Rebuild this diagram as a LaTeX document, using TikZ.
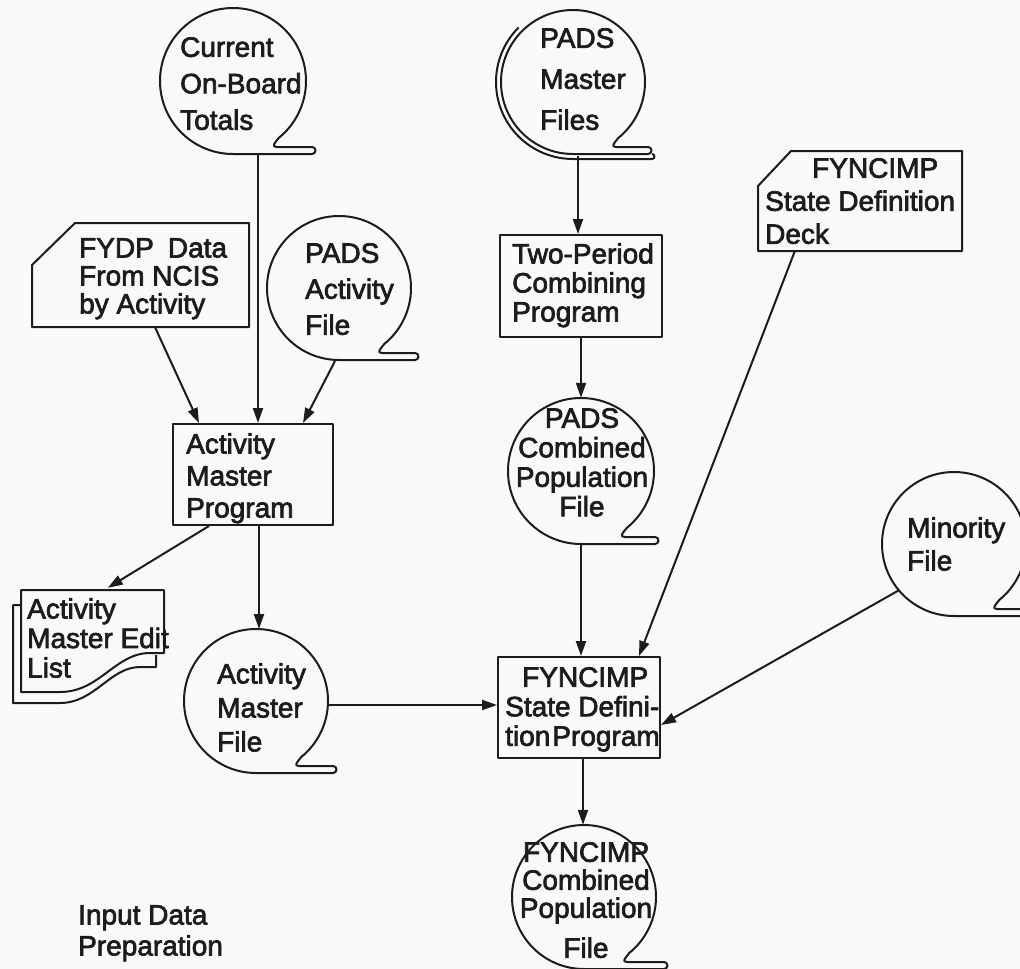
\documentclass[tikz,border=0pt]{standalone}
\usepackage{fontspec}
\setmainfont{Liberation Sans}[FakeBold=2.4]
\usetikzlibrary{calc,arrows.meta}
\definecolor{ink}{RGB}{28,28,28}
\definecolor{paper}{RGB}{249,249,247}

% font size 28pt with a chosen line spacing
\newcommand{\fsz}[1]{\fontsize{28}{#1}\selectfont}

% magnetic tape reel: circle with a short hooked tail at the bottom right
% #1 node name, #2 radius, #3 tail length measured from the centre
\newcommand{\tapeoutline}[3]{%
  \draw[outline] ($(#1.center)+(0,#2)$)
    arc[start angle=90, end angle=411, radius=#2]
    .. controls +(-4,5) and +(-6,0) .. ($(#1.center)+({0.6*#2},{#2-7})$)
    -- ($(#1.center)+(#3,{#2-7})$)
    arc[start angle=-90, end angle=90, radius=3.5]
    -- cycle;}

\begin{document}
\begin{tikzpicture}[x=1pt,y=-1pt,
  outline/.style={draw=ink, line width=2pt, line join=round},
  reel/.style={circle, minimum size=#1, inner sep=0pt, draw=none},
  procbox/.style={outline, rectangle, inner sep=0pt},
  hidden/.style={rectangle, inner sep=0pt, draw=none},
  txt/.style={inner sep=0pt, text=ink, align=left},
  ctxt/.style={inner sep=0pt, text=ink, align=center},
  arr/.style={draw=ink, line width=2pt, -{Triangle[length=15pt,width=10pt]}}]

\fill[paper] (0,0) rectangle (1020,969);
\useasboundingbox (0,0) rectangle (1020,969);

% ---------- input reels ----------
\node[reel=146pt] (cobt) at (233,81) {};
\tapeoutline{cobt}{73}{79}
\node[txt, font=\fsz{36.5}, anchor=north west] (cobt-t) at (180,37) {Current\\On-Board\\Totals};

\node[reel=144pt] (pmf) at (573,82) {};
\tapeoutline{pmf}{72}{75}
\draw[outline] ($(pmf.center)+(225:77)$) arc[start angle=225, end angle=90, radius=77]
  -- ($(pmf.center)+(79,77)$) arc[start angle=90, end angle=-90, radius=2.5];
\node[txt, font=\fsz{41}, anchor=north west] (pmf-t) at (540,28) {PADS\\Master\\Files};

\node[reel=144pt] (paf) at (339,288) {};
\tapeoutline{paf}{72}{76}
\node[txt, font=\fsz{36}, anchor=north west] (paf-t) at (305,243) {PADS\\Activity\\File};

% ---------- FYDP card ----------
\node[hidden, minimum width=217pt, minimum height=104pt] (fydp) at (140.5,275) {};
\draw[outline] (32,265) -- (75,223) -- (249,223) -- (249,327) -- (32,327) -- cycle;
\node[txt, font=\fsz{28}, anchor=north west] (fydp-t) at (79,238) {FYDP\enspace Data\\From NCIS\\by Activity};

% ---------- Activity Master Program ----------
\node[procbox, minimum width=160pt, minimum height=101pt] (amp) at (253,474.5) {};
\node[txt, font=\fsz{32}, anchor=north west] (amp-t) at (186,433) {Activity\\Master\\Program};

% ---------- Activity Master Edit List (printout) ----------
\node[hidden, minimum width=143pt, minimum height=102pt] (amel) at (92.5,641) {};
\draw[outline] (21,605) -- (13,605) -- (13,703) -- (60,703)
  .. controls (95,703) and (110,667) .. (140,667) -- (156,667) -- (156,655);
\draw[outline] (21,590) -- (164,590) -- (164,653) -- (150,653)
  .. controls (115,653) and (100,692) .. (60,692) -- (21,692) -- cycle;
\node[txt, font=\fsz{29.5}, anchor=north west] (amel-t) at (27,598) {Activity\\Master Edit\\List};

% ---------- Activity Master File ----------
\node[reel=144pt] (amf) at (256,701) {};
\tapeoutline{amf}{72}{77}
\node[txt, font=\fsz{34}, anchor=north west] (amf-t) at (217,663) {Activity\\Master\\File};

% ---------- Two-Period Combining Program ----------
\node[procbox, minimum width=162pt, minimum height=102pt] (tpcp) at (581,286) {};
\node[txt, font=\fsz{29}, anchor=north west] (tpcp-t) at (512,243) {Two-Period\\Combining\\Program};

% ---------- PADS Combined Population File ----------
\node[reel=146pt] (pcpf) at (581,471) {};
\tapeoutline{pcpf}{73}{74}
\node[ctxt, font=\fsz{29.5}, anchor=north] (pcpf-t) at (582,408) {PADS\\Combined\\Population\\File};

% ---------- State Definition Deck (punched card) ----------
\node[hidden, minimum width=204pt, minimum height=100pt] (deck) at (860,201) {};
\draw[outline] (758,186) -- (791,151) -- (962,151) -- (962,251) -- (758,251) -- cycle;
\node[txt, font=\fsz{33}, anchor=north west] (deck-t) at (765,158) {\hspace*{47pt}FYNCIMP\\State Definition\\Deck};

% ---------- Minority File ----------
\node[reel=144pt] (mf) at (954,544) {};
\tapeoutline{mf}{72}{75}
\node[txt, font=\fsz{33}, anchor=north west] (mf-t) at (907,517) {Minority\\File};

% ---------- State Definition Program ----------
\node[procbox, minimum width=162pt, minimum height=101pt] (fsdp) at (579,707.5) {};
\node[txt, font=\fsz{29.5}, anchor=north west] (fsdp-t) at (505,667) {\hspace*{17pt}FYNCIMP\\State Defini-\\tion\hspace{2pt}Program};

% ---------- FYNCIMP Combined Population File ----------
\node[reel=144pt] (fcpf) at (584,897) {};
\tapeoutline{fcpf}{72}{80}
\node[ctxt, font=\fsz{28}, anchor=north] (fcpf-t) at (586,842) {FYNCIMP\\Combined\\Population\\[12pt]File};

% ---------- caption ----------
\node[txt, font=\fsz{31}, anchor=north west] (idp) at (78,905) {Input Data\\Preparation};

% ---------- flow lines ----------
\coordinate (cobt-o) at ($(cobt.center)+(25,73)$);
\draw[arr] (cobt-o) -- (cobt-o |- amp.north);
\draw[arr] ($(fydp.south)+(14.5,0)$) -- ($(amp.north west)+(27,0)$);
\draw[arr] ($(paf.center)+(-4,73)$) -- ($(amp.north east)+(-31,0)$);
\coordinate (amp-o) at ($(amp.south)+(6,0)$);
\draw[arr] (amp-o) -- ($(amf.center)+(3,-72)$);
\draw[arr] ($(amp.south west)+(37,0)$) -- ($(amel.north west)+(87,-2)$);
\coordinate (amf-o) at ($(amf.center)+(72,4)$);
\draw[arr] (amf-o) -- (amf-o -| fsdp.west);

\coordinate (pmf-o) at ($(pmf.center)+(5,74)$);
\draw[arr] (pmf-o) -- (pmf-o |- tpcp.north);
\draw[arr] (tpcp.south) -- (pcpf.north);
\draw[arr] (pcpf.south) -- (pcpf.south |- fsdp.north);
\draw[arr] ($(deck.south west)+(37,0)$) -- ($(fsdp.north east)+(-22,0)$);
\draw[arr] ($(mf.center)+(140:72)$) -- ($(fsdp.east)+(0,17.5)$);
\coordinate (fsdp-o) at ($(fsdp.south)+(4,0)$);
\draw[arr] (fsdp-o) -- (fsdp-o |- fcpf.north);
\end{tikzpicture}
\end{document}
